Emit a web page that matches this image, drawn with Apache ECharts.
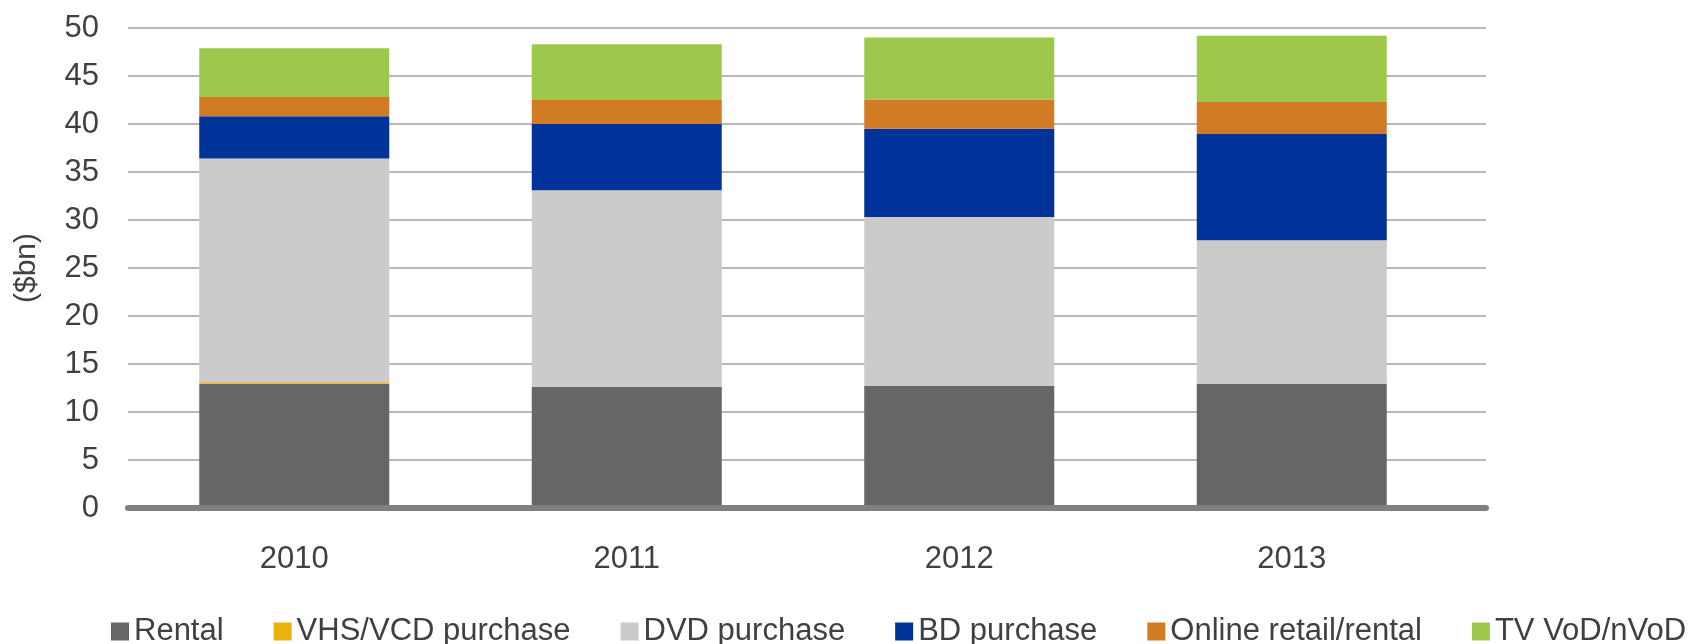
<!DOCTYPE html>
<html>
<head>
<meta charset="utf-8">
<script src="https://cdn.jsdelivr.net/npm/echarts@6/dist/echarts.min.js"></script>
<style>
  html, body { margin: 0; padding: 0; background: #fff; }
  #main { width: 1697px; height: 644px; }
</style>
</head>
<body>
<div id="main"></div>
<script>
  const years = ['2010', '2011', '2012', '2013']
  const rental = [12.95, 12.6, 12.7, 12.95]
  const vhs = [0.15, 0, 0, 0]
  const dvd = [23.3, 20.5, 17.6, 14.95]
  const bd = [4.4, 6.9, 9.2, 11.05]
  const online = [2.0, 2.5, 3.05, 3.35]
  const tvVod = [5.1, 5.8, 6.45, 6.9]
  const yTicks = [0, 5, 10, 15, 20, 25, 30, 35, 40, 45, 50]

  const textColor = '#404040'
  const font = 'Liberation Sans, Arial, sans-serif'

  let chart = echarts.init(document.getElementById('main'))

  // one stacked bar series per segment
  const mkBar = (name, data, color) => ({
    name: name,
    type: 'bar',
    stack: 'total',
    xAxisIndex: 1,
    yAxisIndex: 1,
    barWidth: 190,
    data: data,
    itemStyle: { color: color }
  })

  let option = {
    animation: false,
    textStyle: { fontFamily: font },
    legend: {
      left: 106,
      top: 611,
      itemWidth: 18,
      itemHeight: 18,
      itemGap: 50,
      icon: 'rect',
      textStyle: { fontSize: 31, color: textColor, fontFamily: font },
      data: ['Rental', 'VHS/VCD purchase', 'DVD purchase', 'BD purchase', 'Online retail/rental', 'TV VoD/nVoD']
    },
    // grid 0 carries the gridlines and the wide base line, grid 1 carries the bars
    grid: [
      { left: 128, right: 211, top: 28, bottom: 136 },
      { left: 128, right: 239, top: 28, bottom: 136 }
    ],
    xAxis: [
      {
        type: 'category',
        gridIndex: 0,
        data: [''],
        z: 5,
        axisLine: { show: true, lineStyle: { color: '#808080', width: 6 } },
        axisTick: { show: false },
        axisLabel: { show: false }
      },
      {
        type: 'category',
        gridIndex: 1,
        data: years,
        axisLine: { show: false },
        axisTick: { show: false },
        axisLabel: { fontSize: 31, color: textColor, margin: 36, fontFamily: font }
      }
    ],
    yAxis: [
      {
        type: 'value',
        gridIndex: 0,
        min: yTicks[0],
        max: yTicks[yTicks.length - 1],
        interval: 5,
        name: '($bn)',
        nameLocation: 'middle',
        nameRotate: 90,
        nameGap: 86,
        nameTextStyle: { fontSize: 30, color: textColor, fontFamily: font },
        axisLine: { show: false },
        axisTick: { show: false },
        axisLabel: { fontSize: 31, color: textColor, margin: 29, fontFamily: font },
        splitLine: { lineStyle: { color: '#A0A0A0', width: 1.5 } }
      },
      {
        type: 'value',
        gridIndex: 1,
        min: yTicks[0],
        max: yTicks[yTicks.length - 1],
        interval: 5,
        axisLine: { show: false },
        axisTick: { show: false },
        axisLabel: { show: false },
        splitLine: { show: false }
      }
    ],
    series: [
      mkBar('Rental', rental, '#666666'),
      mkBar('VHS/VCD purchase', vhs, '#EBB20D'),
      mkBar('DVD purchase', dvd, '#CBCBCB'),
      mkBar('BD purchase', bd, '#003399'),
      mkBar('Online retail/rental', online, '#D27B25'),
      mkBar('TV VoD/nVoD', tvVod, '#9DC84C')
    ]
  }
  chart.setOption(option)
</script>
</body>
</html>
